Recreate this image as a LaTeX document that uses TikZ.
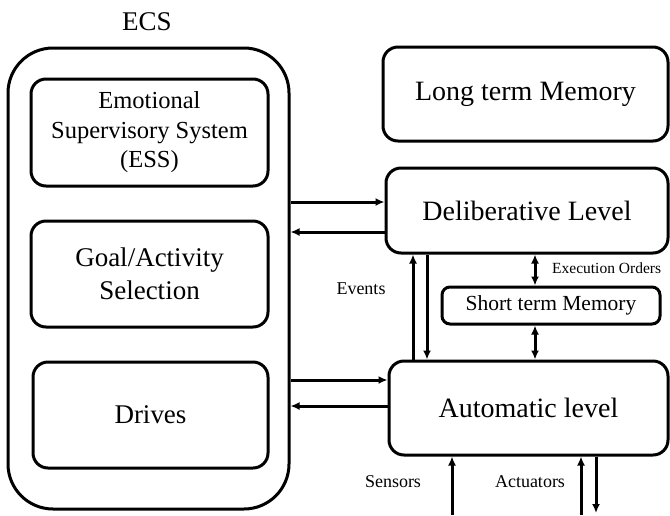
\documentclass[tikz,border=0pt]{standalone}
\usepackage{fontspec}
\setmainfont{Liberation Serif}
\usetikzlibrary{arrows.meta}

\begin{document}
\begin{tikzpicture}[x=1pt,y=-1pt,
    box/.style={draw,line width=3pt,rounded corners=15pt,align=center,
      inner sep=0pt,font=\fontsize{27}{33}\selectfont},
    arr/.style={line width=3pt,-{Latex[length=9pt,width=8pt]}},
    dbl/.style={line width=3pt,{Latex[length=9pt,width=8pt]}-{Latex[length=9pt,width=8pt]}},
    lbl/.style={font=\fontsize{18}{20}\selectfont,inner sep=0pt}]

  \useasboundingbox (0,0) rectangle (670,515);

  \node[font=\fontsize{27}{30}\selectfont] (ecslbl) at (147,22) {ECS};
  \node[box,rounded corners=45pt,minimum width=281pt,minimum height=461pt] (ecs) at (148.5,278.5) {};

  \node[box,minimum width=237pt,minimum height=107pt,font=\fontsize{24.5}{29.5}\selectfont] (ess) at (149.5,132.5)
    {Emotional\\Supervisory System\\(ESS)};
  \node[box,minimum width=237pt,minimum height=106pt] (goal) at (149.5,274) {Goal/Activity\\Selection};
  \node[box,minimum width=235pt,minimum height=106pt] (drives) at (150.5,415) {Drives};

  \node[box,minimum width=285pt,minimum height=94pt,font=\fontsize{28}{32}\selectfont] (ltm) at (525.5,94) {Long term Memory};
  \node[box,minimum width=282pt,minimum height=85pt,font=\fontsize{28}{32}\selectfont] (delib) at (527,210.5) {Deliberative Level};
  \node[box,rounded corners=8pt,minimum width=218pt,minimum height=37pt,font=\fontsize{21.5}{24}\selectfont] (stm) at (551,305.5) {Short term Memory};
  \node[box,minimum width=279pt,minimum height=94pt,font=\fontsize{28}{32}\selectfont] (auto) at (528.5,408) {Automatic level};

  % ECS <-> levels
  \coordinate (d1) at ([yshift=8.5pt]delib.west);
  \coordinate (d2) at ([yshift=-21.5pt]delib.west);
  \coordinate (a1) at ([yshift=28pt]auto.west);
  \coordinate (a2) at ([yshift=2pt]auto.west);
  \draw[arr] (ecs.east |- d1) -- (d1);
  \draw[arr] (d2) -- (ecs.east |- d2);
  \draw[arr] (ecs.east |- a1) -- (a1);
  \draw[arr] (a2) -- (ecs.east |- a2);

  % events
  \coordinate (ev1) at ([xshift=-115.5pt]auto.north);
  \coordinate (ev2) at ([xshift=-101.5pt]auto.north);
  \draw[arr] (ev1) -- (ev1 |- delib.south);
  \draw[arr] (ev2 |- delib.south) -- (ev2);
  \node[lbl] (events) at (361,289) {Events};

  % short term memory
  \coordinate (m1) at ([xshift=-16pt]stm.north);
  \coordinate (m2) at ([xshift=-16pt]stm.south);
  \draw[dbl] (m1 |- delib.south) -- (m1);
  \draw[dbl] (m2) -- (m2 |- auto.north);
  \node[lbl,font=\fontsize{15.5}{18}\selectfont,anchor=west] (exec) at (552,268) {Execution Orders};

  % sensors and actuators
  \coordinate (sens) at (452,515);
  \coordinate (act1) at (581,515);
  \coordinate (act2) at (596,513);
  \draw[arr] (sens) -- (sens |- auto.south);
  \draw[arr] (act1) -- (act1 |- auto.south);
  \draw[arr] (act2 |- auto.south) -- (act2);
  \node[lbl] (sensors) at (393,482) {Sensors};
  \node[lbl] (actuators) at (530,482) {Actuators};

\end{tikzpicture}
\end{document}
